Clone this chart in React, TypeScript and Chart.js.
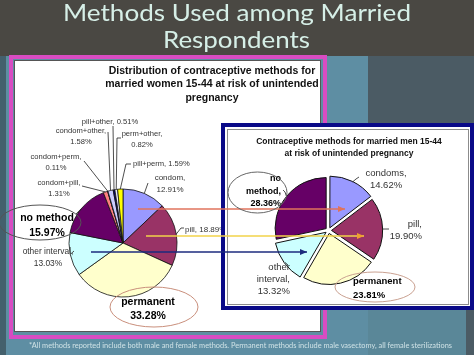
import React, { useEffect, useRef } from 'react';
import { Chart, registerables } from 'chart.js';

Chart.register(...registerables);

const W = 474;
const H = 355;

// ---------- data ----------
const womenCategories = ['condom', 'pill', 'permanent', 'other interval', 'no method', 'condom+pill', 'condom+perm', 'condom+other', 'pill+other', 'perm+other', 'pill+perm'];
const womenValues = [12.91, 18.89, 33.28, 13.03, 15.97, 1.31, 0.11, 1.58, 0.51, 0.82, 1.59];
const menCategories = ['condoms', 'pill', 'permanent', 'other interval', 'no method'];
const menValues = [14.62, 19.9, 23.81, 13.32, 28.36];

const womenTitle = ['Distribution of contraceptive methods for', 'married women 15-44 at risk of unintended', 'pregnancy'];
const menTitle = ['Contraceptive methods for married men 15-44', 'at risk of unintended pregnancy'];
const slideTitle = ['Methods Used among Married', 'Respondents'];
const footnote = '*All methods reported include both male and female methods. Permanent methods include male vasectomy, all female sterilizations';

// ---------- styles ----------
const womenColors = ['#9999ff', '#993366', '#ffffcc', '#ccffff', '#660066', '#ff8080', '#0066cc', '#ccccff', '#000080', '#e8e8ff', '#ffff00'];
const menColors = ['#9999ff', '#993366', '#ffffcc', '#ccffff', '#660066'];
const FONT = '"Liberation Sans", Arial, Helvetica, sans-serif';

type Fmt = 'one' | 'two' | 'plain' | 'words';
type LabelSpec = { fmt: Fmt; x: number; y: number; align: CanvasTextAlign; size: number; lh: number; bold?: boolean; leader?: number[][] };

const womenLabelLayout: LabelSpec[] = [
  { fmt: 'two', x: 170, y: 178, align: 'center', size: 8, lh: 12, leader: [[148, 183]] },
  { fmt: 'one', x: 185, y: 230, align: 'left', size: 8, lh: 12, leader: [[181, 228], [184, 228]] },
  { fmt: 'plain', x: 148, y: 302, align: 'center', size: 10.5, lh: 14, bold: true },
  { fmt: 'two', x: 48, y: 252, align: 'center', size: 8.4, lh: 12, leader: [[74, 251]] },
  { fmt: 'plain', x: 47, y: 218, align: 'center', size: 10.5, lh: 15, bold: true, leader: [[76, 214]] },
  { fmt: 'two', x: 59, y: 183, align: 'center', size: 7.6, lh: 11, leader: [[82, 186]] },
  { fmt: 'two', x: 56, y: 157, align: 'center', size: 7.6, lh: 11, leader: [[84, 161]] },
  { fmt: 'two', x: 81, y: 131, align: 'center', size: 7.6, lh: 11, leader: [[108, 132]] },
  { fmt: 'one', x: 110, y: 122, align: 'center', size: 7.6, lh: 11, leader: [[113, 126]] },
  { fmt: 'two', x: 142, y: 134, align: 'center', size: 7.6, lh: 11, leader: [[117, 138], [121, 138]] },
  { fmt: 'one', x: 133, y: 164, align: 'left', size: 7.6, lh: 11, leader: [[126, 164], [131, 164]] },
];

const menLabelLayout: LabelSpec[] = [
  { fmt: 'two', x: 386, y: 173, align: 'center', size: 9.5, lh: 12, leader: [[356, 179], [359, 177]] },
  { fmt: 'two', x: 422, y: 224, align: 'right', size: 9.5, lh: 12, leader: [[389, 229]] },
  { fmt: 'plain', x: 353, y: 281, align: 'left', size: 9.5, lh: 14, bold: true },
  { fmt: 'words', x: 290, y: 267, align: 'right', size: 9.5, lh: 12, leader: [[288, 265]] },
  { fmt: 'words', x: 281, y: 179, align: 'right', size: 9, lh: 12.5, bold: true, leader: [[285, 192], [283, 190]] },
];

function formatLabel(cat: string, v: number, fmt: Fmt): string[] {
  const pct = v.toFixed(2) + '%';
  if (fmt === 'one') return [`${cat}, ${pct}`];
  if (fmt === 'two') return [`${cat},`, pct];
  if (fmt === 'plain') return [cat, pct];
  const w = cat.split(' ');
  w[w.length - 1] += ',';
  return [...w, pct];
}

function makeLabelPlugin(id: string, title: { lines: string[]; x: number; y: number; lh: number; size: number }, items: LabelSpec[]) {
  return {
    id,
    afterDatasetsDraw(chart: any) {
      const ctx: CanvasRenderingContext2D = chart.ctx;
      const meta = chart.getDatasetMeta(0);
      const labels = chart.data.labels as string[];
      const values = chart.data.datasets[0].data as number[];
      ctx.save();
      ctx.textBaseline = 'middle';
      ctx.fillStyle = '#111';
      ctx.textAlign = 'center';
      ctx.font = `bold ${title.size}px ${FONT}`;
      title.lines.forEach((ln, i) => ctx.fillText(ln, title.x, title.y + i * title.lh));
      items.forEach((it, i) => {
        const arc = meta.data[i];
        if (!arc) return;
        const p = arc.getProps(['x', 'y', 'startAngle', 'endAngle', 'outerRadius'], true);
        const mid = (p.startAngle + p.endAngle) / 2;
        const shift = (arc.options.offset || 0) / 4;
        const r = p.outerRadius + shift;
        const ex = p.x + Math.cos(mid) * r;
        const ey = p.y + Math.sin(mid) * r;
        if (it.leader && it.leader.length) {
          ctx.beginPath();
          ctx.moveTo(ex, ey);
          it.leader.forEach(([lx, ly]) => ctx.lineTo(lx, ly));
          ctx.strokeStyle = '#222';
          ctx.lineWidth = 0.8;
          ctx.stroke();
        }
        const lines = formatLabel(labels[i], values[i], it.fmt);
        ctx.font = `${it.bold ? 'bold ' : ''}${it.size}px ${FONT}`;
        ctx.fillStyle = it.bold ? '#000' : '#333';
        ctx.textAlign = it.align;
        lines.forEach((ln, k) => ctx.fillText(ln, it.x, it.y + k * it.lh));
      });
      ctx.restore();
    },
  };
}

function pad(cx: number, cy: number, r: number) {
  return { left: cx - r, top: cy - r, right: W - cx - r, bottom: H - cy - r };
}

function pieConfig(labels: string[], values: number[], colors: string[], cx: number, cy: number, r: number, offset: number, border: number, plugin: any): any {
  return {
    type: 'pie',
    data: {
      labels,
      datasets: [{ data: values, backgroundColor: colors, borderColor: '#111', borderWidth: border, offset }],
    },
    options: {
      animation: false,
      responsive: false,
      maintainAspectRatio: false,
      radius: r,
      events: [],
      layout: { padding: pad(cx, cy, r) },
      plugins: { legend: { display: false }, tooltip: { enabled: false }, title: { display: false } },
    },
    plugins: [plugin],
  };
}

const abs = (s: React.CSSProperties): React.CSSProperties => ({ position: 'absolute', boxSizing: 'border-box', ...s });

export default function App() {
  const leftRef = useRef<HTMLCanvasElement>(null);
  const rightRef = useRef<HTMLCanvasElement>(null);

  useEffect(() => {
    const c1 = new Chart(
      leftRef.current!,
      pieConfig(womenCategories, womenValues, womenColors, 123, 243, 54, 0, 0.8,
        makeLabelPlugin('womenLabels', { lines: womenTitle, x: 212, y: 71, lh: 13.5, size: 10.5 }, womenLabelLayout))
    );
    const c2 = new Chart(
      rightRef.current!,
      pieConfig(menCategories, menValues, menColors, 328.5, 230.5, 51, 12, 1,
        makeLabelPlugin('menLabels', { lines: menTitle, x: 349, y: 142, lh: 11.5, size: 8.5 }, menLabelLayout))
    );
    return () => {
      c1.destroy();
      c2.destroy();
    };
  }, []);

  return (
    <div style={{ position: 'fixed', left: 0, top: 0, width: W, height: H, overflow: 'hidden', background: '#4b5b64' }}>
      {/* slide background */}
      <div style={abs({ left: 0, top: 0, width: W, height: 56, background: '#4a4843' })} />
      <div style={abs({ left: 0, top: 56, width: 368, height: 299, background: '#5e8ea3' })} />
      <div style={abs({ left: 0, top: 56, width: 6, height: 299, background: '#44606c' })} />
      <div style={abs({ left: 368, top: 56, width: 106, height: 254, background: '#4b5b64' })} />
      <div style={abs({ left: 368, top: 310, width: 98, height: 45, background: '#5a8798' })} />
      {/* pink frame + white panel */}
      <div style={abs({ left: 9, top: 55, width: 318, height: 284, border: '4px solid #d84cc2' })} />
      <div style={abs({ left: 14, top: 60, width: 307, height: 272, background: '#fff', border: '1px solid #555' })} />
      <canvas ref={leftRef} width={W} height={H} style={{ position: 'absolute', left: 0, top: 0, width: W, height: H }} />
      {/* navy framed panel */}
      <div style={abs({ left: 221, top: 123, width: 253, height: 187, background: '#fff', border: '4px solid #0a0a88' })} />
      <div style={abs({ left: 227, top: 129, width: 242, height: 176, border: '1px solid #8c8c8c' })} />
      <canvas ref={rightRef} width={W} height={H} style={{ position: 'absolute', left: 0, top: 0, width: W, height: H }} />
      {/* overlay: titles, arrows, ellipses */}
      <svg width={W} height={H} style={{ position: 'absolute', left: 0, top: 0 }}>
        <defs>
          <marker id="ahRed" markerWidth="7" markerHeight="6" refX="7" refY="3" orient="auto" markerUnits="userSpaceOnUse">
            <path d="M0,0 L7,3 L0,6 z" fill="#e0735c" />
          </marker>
          <marker id="ahYel" markerWidth="7" markerHeight="6" refX="7" refY="3" orient="auto" markerUnits="userSpaceOnUse">
            <path d="M0,0 L7,3 L0,6 z" fill="#f0a030" />
          </marker>
          <marker id="ahNavy" markerWidth="7" markerHeight="6" refX="7" refY="3" orient="auto" markerUnits="userSpaceOnUse">
            <path d="M0,0 L7,3 L0,6 z" fill="#1d2b7e" />
          </marker>
        </defs>
        <text x={63} y={20.5} fontFamily="Lato, 'Open Sans', sans-serif" fontSize={23} fill="#d6efe7" textLength={348} lengthAdjust="spacingAndGlyphs">{slideTitle[0]}</text>
        <text x={163} y={48} fontFamily="Lato, 'Open Sans', sans-serif" fontSize={23} fill="#d6efe7" textLength={147} lengthAdjust="spacingAndGlyphs">{slideTitle[1]}</text>
        <text x={29} y={348} fontFamily="Lato, 'Open Sans', sans-serif" fontSize={7} fill="#cfe2e6" textLength={423} lengthAdjust="spacingAndGlyphs">{footnote}</text>

        <line x1={138} y1={209} x2={345} y2={209} stroke="#e0735c" strokeWidth={1.3} markerEnd="url(#ahRed)" />
        <line x1={146} y1={236} x2={364} y2={236} stroke="#f2d34a" strokeWidth={1.3} markerEnd="url(#ahYel)" />
        <line x1={91} y1={252} x2={307} y2={252} stroke="#1d2b7e" strokeWidth={1.3} markerEnd="url(#ahNavy)" />

        <ellipse cx={40} cy={222.5} rx={41} ry={17.5} fill="none" stroke="#555" strokeWidth={1} />
        <ellipse cx={154} cy={307} rx={44} ry={20} fill="none" stroke="#c98f7c" strokeWidth={1} />
        <ellipse cx={257.5} cy={192.5} rx={29.5} ry={20.5} fill="none" stroke="#666" strokeWidth={1} />
        <ellipse cx={375} cy={287} rx={40} ry={15} fill="none" stroke="#c9a090" strokeWidth={1} />
      </svg>
    </div>
  );
}
